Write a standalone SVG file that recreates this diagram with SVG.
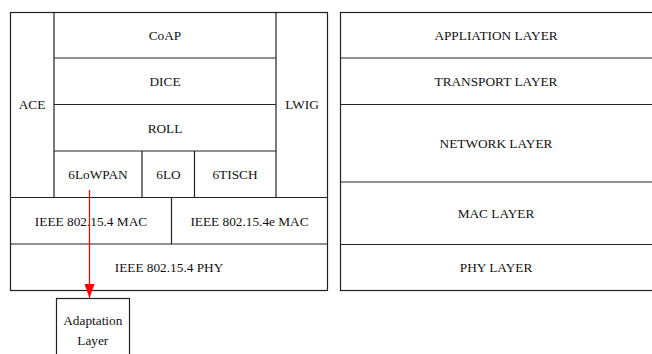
<svg xmlns="http://www.w3.org/2000/svg" width="652" height="354" viewBox="0 0 652 354">
<defs>
<style>
.b{fill:#fff;stroke:#222;stroke-width:1.2}
.l{stroke:#222;stroke-width:1.2;fill:none}
text{font-family:"Liberation Serif","Times New Roman",serif;font-size:13.3px;fill:#111;text-anchor:middle}
</style>
<marker id="ah" viewBox="0 0 14 10" refX="14" refY="5" markerWidth="14" markerHeight="10" markerUnits="userSpaceOnUse" orient="auto"><path d="M0,0 L14,5 L0,10 z" fill="#f00"/></marker>
</defs>
<rect x="0" y="0" width="652" height="354" fill="#fff"/>
<g id="left-stack">
<rect class="b" x="10.5" y="12.5" width="317" height="278"/>
</g>
<g id="ACE"><line class="l" x1="54" y1="12.5" x2="54" y2="197.5"/><text x="32" y="109">ACE</text></g>
<g id="LWIG"><line class="l" x1="276" y1="12.5" x2="276" y2="197.5"/><text x="302" y="109">LWIG</text></g>
<g id="CoAP"><line class="l" x1="54" y1="58" x2="276" y2="58"/><text x="165" y="39.5">CoAP</text></g>
<g id="DICE"><line class="l" x1="54" y1="104.5" x2="276" y2="104.5"/><text x="165" y="86">DICE</text></g>
<g id="ROLL"><line class="l" x1="54" y1="151" x2="276" y2="151"/><text x="165" y="132.5">ROLL</text></g>
<g id="6LoWPAN"><line class="l" x1="142" y1="151" x2="142" y2="197.5"/><text x="98" y="179">6LoWPAN</text></g>
<g id="6LO"><line class="l" x1="194.5" y1="151" x2="194.5" y2="197.5"/><text x="168.5" y="179">6LO</text></g>
<g id="6TISCH"><text x="235" y="179">6TISCH</text></g>
<g id="mac154"><line class="l" x1="10.5" y1="197.5" x2="327.5" y2="197.5"/><text x="91" y="225.5">IEEE 802.15.4 MAC</text></g>
<g id="mac154e"><line class="l" x1="171.5" y1="197.5" x2="171.5" y2="244"/><text x="249.5" y="225.5">IEEE 802.15.4e MAC</text></g>
<g id="phy154"><line class="l" x1="10.5" y1="244" x2="327.5" y2="244"/><text x="169" y="272">IEEE 802.15.4 PHY</text></g>
<g id="adaptation"><rect class="b" x="56.5" y="298.5" width="73" height="70"/><text x="92.8" y="325">Adaptation</text><text x="92.8" y="345">Layer</text></g>
<g id="osi-stack"><rect class="b" x="340.5" y="12.5" width="314" height="278"/></g>
<g id="app"><text x="496" y="39.5">APPLIATION LAYER</text></g>
<g id="transport"><line class="l" x1="340.5" y1="58" x2="652" y2="58"/><text x="496" y="86">TRANSPORT LAYER</text></g>
<g id="network"><line class="l" x1="340.5" y1="104.5" x2="652" y2="104.5"/><text x="496" y="148">NETWORK LAYER</text></g>
<g id="mac"><line class="l" x1="340.5" y1="182" x2="652" y2="182"/><text x="496" y="217.5">MAC LAYER</text></g>
<g id="phy"><line class="l" x1="340.5" y1="244.5" x2="652" y2="244.5"/><text x="496" y="272">PHY LAYER</text></g>
<g id="connectors"><line x1="89.5" y1="190" x2="89.5" y2="298" stroke="#f00" stroke-width="1.2" marker-end="url(#ah)"/></g>
</svg>
